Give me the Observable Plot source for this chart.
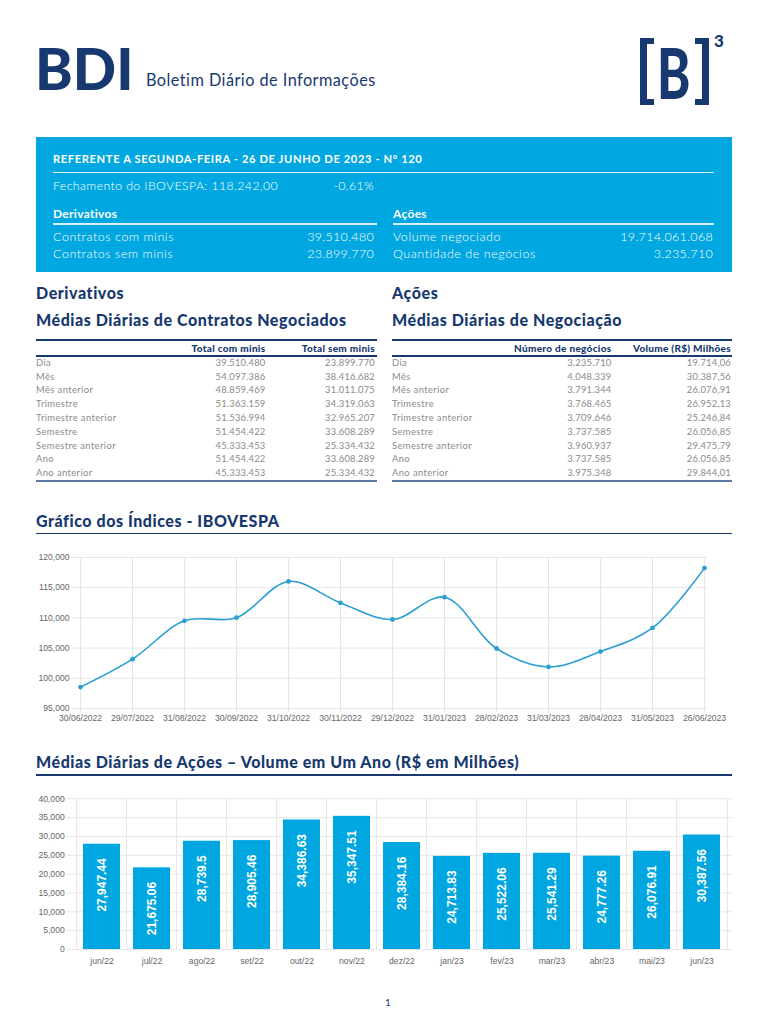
<!DOCTYPE html>
<html><head><meta charset="utf-8">
<script src="https://cdn.jsdelivr.net/npm/d3@7"></script>
<script src="https://cdn.jsdelivr.net/npm/@observablehq/plot@0.6"></script>
<style>
body{margin:0;background:#fff;}
#page{position:relative;width:768px;height:1024px;overflow:hidden;font-family:Lato,"Open Sans",sans-serif;}
.t{position:absolute;white-space:nowrap;line-height:1;}
.hl{position:absolute;}
</style></head>
<body><div id="page"></div>
<script>
// ---------- data ----------
const reportTitle = "REFERENTE A SEGUNDA-FEIRA - 26 DE JUNHO DE 2023 - Nº 120";
const ibovClose = "Fechamento do IBOVESPA: 118.242,00";
const ibovChange = "-0,61%";
const boxDerivLabels = ["Contratos com minis", "Contratos sem minis"];
const boxDerivValues = ["39.510.480", "23.899.770"];
const boxAcoesLabels = ["Volume negociado", "Quantidade de negócios"];
const boxAcoesValues = ["19.714.061.068", "3.235.710"];

const periods = ["Dia","Mês","Mês anterior","Trimestre","Trimestre anterior","Semestre","Semestre anterior","Ano","Ano anterior"];
const derivHeaders = ["Total com minis", "Total sem minis"];
const totalComMinis = ["39.510.480","54.097.386","48.859.469","51.363.159","51.536.994","51.454.422","45.333.453","51.454.422","45.333.453"];
const totalSemMinis = ["23.899.770","38.416.682","31.011.075","34.319.063","32.965.207","33.608.289","25.334.432","33.608.289","25.334.432"];
const acoesHeaders = ["Número de negócios", "Volume (R$) Milhões"];
const numNegocios = ["3.235.710","4.048.339","3.791.344","3.768.465","3.709.646","3.737.585","3.960.937","3.737.585","3.975.348"];
const volumeMilhoes = ["19.714,06","30.387,56","26.076,91","26.952,13","25.246,84","26.056,85","29.475,79","26.056,85","29.844,01"];

const ibovDates = ["30/06/2022","29/07/2022","31/08/2022","30/09/2022","31/10/2022","30/11/2022","29/12/2022","31/01/2023","28/02/2023","31/03/2023","28/04/2023","31/05/2023","26/06/2023"];
const ibovValues = [98542, 103165, 109523, 110037, 116037, 112486, 109735, 113431, 104932, 101882, 104432, 108335, 118242];
const ibovTicks = [95000, 100000, 105000, 110000, 115000, 120000];

const months = ["jun/22","jul/22","ago/22","set/22","out/22","nov/22","dez/22","jan/23","fev/23","mar/23","abr/23","mai/23","jun/23"];
const volumes = [27947.44, 21675.06, 28739.5, 28905.46, 34386.63, 35347.51, 28384.16, 24713.83, 25522.06, 25541.29, 24777.26, 26076.91, 30387.56];
const volumeTicks = [0, 5000, 10000, 15000, 20000, 25000, 30000, 35000, 40000];

// ---------- styles ----------
const navy = "#17396f";
const cyan = "#00a7e1";
const grey = "#8a8a8a";
const page = document.getElementById("page");

function txt(s, x, y, o = {}) {
  const d = document.createElement("div");
  d.className = "t";
  d.textContent = s;
  d.style.left = x + "px";
  d.style.top = y + "px";
  d.style.fontSize = (o.size || 12) + "px";
  d.style.fontWeight = o.weight || 400;
  d.style.color = o.color || "#000";
  if (o.family) d.style.fontFamily = o.family;
  if (o.ls) d.style.letterSpacing = o.ls + "px";
  d.style.transform = `translate(${o.anchor === "end" ? "-100%" : o.anchor === "middle" ? "-50%" : "0"},-50%)` + (o.extra || "");
  (o.parent || page).appendChild(d);
  return d;
}
function hline(x1, x2, y, w, c, parent) {
  const d = document.createElement("div");
  d.className = "hl";
  d.style.left = x1 + "px"; d.style.width = (x2 - x1) + "px";
  d.style.top = (y - w / 2) + "px"; d.style.height = w + "px";
  d.style.background = c;
  (parent || page).appendChild(d);
}

// ---------- header ----------
txt("BDI", 35, 68, {size: 57, weight: 900, color: navy, ls: 0});
txt("Boletim Diário de Informações", 146, 80, {size: 16.3, weight: 400, color: navy, ls: 0.45});
// B3 logo
(function () {
  const mk = (css) => { const d = document.createElement("div"); d.style.cssText = "position:absolute;box-sizing:border-box;" + css; page.appendChild(d); };
  mk(`left:640px;top:38px;width:14px;height:67px;border:6px solid ${navy};border-left-width:7px;border-right:none;`);
  mk(`left:695px;top:38px;width:14px;height:67px;border:6px solid ${navy};border-right-width:7px;border-left:none;`);
  txt("B", 657, 72, {size: 70, weight: 900, color: navy, extra: " scaleX(0.72)"}).style.transformOrigin = "0 50%";
  txt("3", 714, 40, {size: 17, weight: 900, color: navy});
})();

// ---------- blue box ----------
const box = document.createElement("div");
box.style.cssText = `position:absolute;left:36px;top:137px;width:696px;height:135px;background:${cyan};`;
page.appendChild(box);
txt(reportTitle, 53, 159, {size: 11.2, weight: 700, color: "#fff", ls: 0.6});
hline(53, 714, 172.5, 1.3, "rgba(255,255,255,0.85)");
txt(ibovClose, 53, 186, {size: 12.3, weight: 300, color: "#fff", ls: 0.4});
txt(ibovChange, 374, 186, {size: 12.3, weight: 300, color: "#fff", anchor: "end", ls: 0.4});
txt("Derivativos", 53, 213.5, {size: 12, weight: 700, color: "#fff", ls: 0.3});
txt("Ações", 393, 213.5, {size: 12, weight: 700, color: "#fff", ls: 0.3});
hline(53, 377, 224, 1.3, "rgba(255,255,255,0.85)");
hline(393, 714, 224, 1.3, "rgba(255,255,255,0.85)");
boxDerivLabels.forEach((l, i) => {
  const y = 237 + i * 16.8;
  txt(l, 53, y, {size: 12.5, weight: 300, color: "#fff", ls: 0.55});
  txt(boxDerivValues[i], 374, y, {size: 12.5, weight: 300, color: "#fff", anchor: "end", ls: 0.3});
  txt(boxAcoesLabels[i], 393, y, {size: 12.5, weight: 300, color: "#fff", ls: 0.55});
  txt(boxAcoesValues[i], 713, y, {size: 12.5, weight: 300, color: "#fff", anchor: "end", ls: 0.3});
});

// ---------- section titles ----------
const H = {size: 16, weight: 900, color: navy, ls: 0.55};
txt("Derivativos", 36, 293, H);
txt("Ações", 392, 293, H);
txt("Médias Diárias de Contratos Negociados", 36, 320, H);
txt("Médias Diárias de Negociação", 392, 320, H);

// ---------- tables ----------
function table(x0, x1, headers, colRights, col1, col2) {
  hline(x0, x1, 340, 2, navy);
  hline(x0, x1, 356, 1.5, navy);
  hline(x0, x1, 481, 1.5, "#5d7aa5");
  txt(headers[0], colRights[0], 347.5, {size: 10, weight: 900, color: navy, anchor: "end", ls: 0.3});
  txt(headers[1], colRights[1], 347.5, {size: 10, weight: 900, color: navy, anchor: "end", ls: 0.3});
  periods.forEach((p, i) => {
    const y = 362.8 + i * 13.8;
    txt(p, x0, y, {size: 9.4, weight: 400, color: grey, ls: 0.4});
    txt(col1[i], colRights[0], y, {size: 9.4, weight: 400, color: grey, anchor: "end", ls: 0.2});
    txt(col2[i], colRights[1], y, {size: 9.4, weight: 400, color: grey, anchor: "end", ls: 0.2});
  });
}
table(36, 377, derivHeaders, [265.5, 375], totalComMinis, totalSemMinis);
table(392, 732, acoesHeaders, [611.5, 731], numNegocios, volumeMilhoes);

// ---------- line chart ----------
txt("Gráfico dos Índices - IBOVESPA", 36, 521, H);
hline(36, 732, 533.5, 1.5, navy);

const gridC = "#e6e6e6";
const axisFont = {fontFamily: "'Liberation Sans', Arial, sans-serif", fontSize: "8.6px", background: "transparent", overflow: "visible"};
const lineColor = "#2a9fd2";
const lineChart = Plot.plot({
  width: 710, height: 183,
  marginTop: 12, marginBottom: 20, marginLeft: 46, marginRight: 33,
  style: axisFont,
  x: {type: "point", domain: ibovDates, padding: 0, label: null},
  y: {domain: [95000, 120000], label: null},
  marks: [
    Plot.gridY(ibovTicks, {stroke: gridC, strokeOpacity: 1}),
    Plot.gridX(ibovDates, {stroke: gridC, strokeOpacity: 1}),
    Plot.axisY(ibovTicks, {tickSize: 5, tickPadding: 2, stroke: gridC, fill: "#666", tickFormat: d3.format(","), label: null}),
    Plot.axisX(ibovDates, {tickSize: 4, tickPadding: 2, stroke: gridC, fill: "#666", label: null}),
    Plot.line(ibovDates, {x: d => d, y: (d, i) => ibovValues[i], curve: "catmull-rom", stroke: lineColor, strokeWidth: 1.6}),
    Plot.dot(ibovDates, {x: d => d, y: (d, i) => ibovValues[i], r: 2.4, fill: lineColor})
  ]
});
const lc = document.createElement("div");
lc.style.cssText = "position:absolute;left:30px;top:545px;";
lc.appendChild(lineChart);
page.appendChild(lc);

// ---------- bar chart ----------
txt("Médias Diárias de Ações – Volume em Um Ano (R$ em Milhões)", 36, 762, H);
hline(36, 732, 775, 1.5, navy);

const barW = 710, barML = 41.7, barMR = 8;
const step = (barW - barML - barMR) / months.length;
const barData = months.map((m, i) => ({m, v: volumes[i]}));
const barChart = Plot.plot({
  width: barW, height: 179,
  marginTop: 8.3, marginBottom: 20, marginLeft: barML, marginRight: barMR,
  style: axisFont,
  x: {type: "band", domain: months, paddingInner: 0.265, paddingOuter: 0.1325, label: null},
  y: {domain: [0, 40000], label: null},
  marks: [
    Plot.gridY(volumeTicks, {stroke: gridC, strokeOpacity: 1}),
    Plot.gridX(months, {stroke: gridC, strokeOpacity: 1, dx: -step / 2}),
    Plot.gridX(months.slice(-1), {stroke: gridC, strokeOpacity: 1, dx: step / 2}),
    Plot.axisY(volumeTicks, {tickSize: 5, tickPadding: 2.5, stroke: gridC, fill: "#666", tickFormat: d3.format(","), label: null}),
    Plot.axisX(months, {tickSize: 0, tickPadding: 8, fill: "#666", label: null}),
    Plot.barY(barData, {x: "m", y: "v", fill: "#00a6e0"}),
    Plot.text(barData, {x: "m", y: "v", text: d => d3.format(",")(d.v), rotate: -90, textAnchor: "end", lineAnchor: "middle", dy: 14,
      fill: "#fff", fontSize: 12, fontWeight: "bold", fontFamily: "'Liberation Sans', Arial, sans-serif"})
  ]
});
const bc = document.createElement("div");
bc.style.cssText = "position:absolute;left:30px;top:790px;";
bc.appendChild(barChart);
page.appendChild(bc);

// page number
txt("1", 388, 1002, {size: 10, weight: 400, color: navy, anchor: "middle"});
</script>
</body></html>
